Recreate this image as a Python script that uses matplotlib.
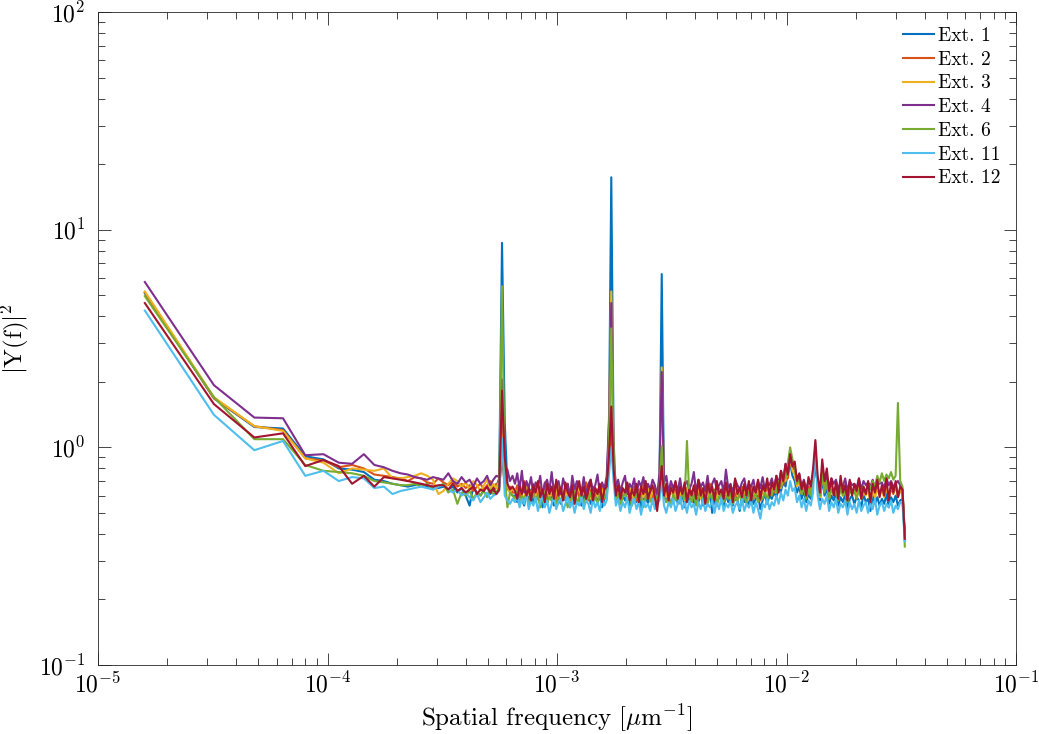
import numpy as np
import matplotlib
matplotlib.use("Agg")
import matplotlib.pyplot as plt
from matplotlib.ticker import LogLocator, NullFormatter

plt.rcParams['font.family'] = 'cmr10'
plt.rcParams['mathtext.fontset'] = 'cm'
plt.rcParams['axes.formatter.use_mathtext'] = True

# frequency step of the spectrum [1/um]
df = 1.6e-5
# first 40 bins are kept one by one, after that bins are thinned out
k_first = 41
k_last = 2048

labels = ['Ext. 1', 'Ext. 2', 'Ext. 3', 'Ext. 4', 'Ext. 6', 'Ext. 11', 'Ext. 12']
colors = ['#0072BD', '#D95319', '#EDB120', '#7E2F8E', '#77AC30', '#4DBEEE', '#A2142F']

# |Y(f)|^2, bins 1..40
ext1_low = [5.1, 1.68, 1.24, 1.22, 0.91, 0.88, 0.80, 0.79, 0.77, 0.71,
            0.70, 0.68, 0.67, 0.66, 0.67, 0.68, 0.66, 0.66, 0.65, 0.66,
            0.64, 0.66, 0.62, 0.65, 0.60, 0.54, 0.66, 0.62, 0.60, 0.64,
            0.66, 0.61, 0.63, 0.66, 0.72, 8.7, 1.3, 0.66, 0.62, 0.60]
ext2_low = [5.15, 1.68, 1.25, 1.20, 0.89, 0.87, 0.81, 0.83, 0.80, 0.75,
            0.74, 0.73, 0.72, 0.70, 0.73, 0.72, 0.69, 0.68, 0.72, 0.69,
            0.67, 0.70, 0.66, 0.68, 0.65, 0.67, 0.63, 0.66, 0.68, 0.64,
            0.67, 0.70, 0.65, 0.68, 0.66, 0.87, 0.68, 0.64, 0.66, 0.62]
ext3_low = [5.2, 1.70, 1.25, 1.19, 0.89, 0.85, 0.76, 0.80, 0.79, 0.78,
            0.80, 0.72, 0.72, 0.73, 0.74, 0.76, 0.74, 0.71, 0.61, 0.63,
            0.68, 0.72, 0.70, 0.66, 0.69, 0.64, 0.70, 0.67, 0.63, 0.67,
            0.71, 0.64, 0.68, 0.65, 0.70, 1.25, 0.75, 0.66, 0.62, 0.65]
ext4_low = [5.75, 1.93, 1.37, 1.36, 0.92, 0.93, 0.85, 0.84, 0.93, 0.83,
            0.81, 0.78, 0.76, 0.75, 0.73, 0.72, 0.71, 0.73, 0.72, 0.71,
            0.76, 0.70, 0.68, 0.73, 0.69, 0.71, 0.66, 0.72, 0.68, 0.70,
            0.74, 0.67, 0.71, 0.74, 0.73, 2.05, 0.82, 0.79, 0.70, 0.74]
ext6_low = [4.95, 1.70, 1.09, 1.09, 0.83, 0.78, 0.77, 0.76, 0.74, 0.70,
            0.69, 0.68, 0.67, 0.67, 0.68, 0.66, 0.68, 0.64, 0.66, 0.68,
            0.62, 0.64, 0.55, 0.62, 0.60, 0.63, 0.58, 0.62, 0.60, 0.63,
            0.59, 0.64, 0.61, 0.62, 0.66, 5.5, 0.74, 0.53, 0.62, 0.60]
ext11_low = [4.25, 1.41, 0.97, 1.07, 0.74, 0.78, 0.70, 0.73, 0.72, 0.65,
             0.66, 0.61, 0.63, 0.64, 0.65, 0.66, 0.65, 0.64, 0.66, 0.67,
             0.64, 0.62, 0.64, 0.60, 0.62, 0.59, 0.57, 0.61, 0.56, 0.59,
             0.62, 0.58, 0.60, 0.61, 0.63, 1.1, 0.60, 0.57, 0.55, 0.58]
ext12_low = [4.6, 1.58, 1.11, 1.16, 0.82, 0.875, 0.82, 0.68, 0.74, 0.66,
             0.73, 0.72, 0.71, 0.70, 0.69, 0.68, 0.67, 0.66, 0.67, 0.67,
             0.64, 0.68, 0.63, 0.65, 0.62, 0.64, 0.66, 0.61, 0.64, 0.63,
             0.66, 0.62, 0.65, 0.61, 0.64, 1.82, 0.90, 0.68, 0.64, 0.66]

# |Y(f)|^2 on thinned bins from 41 to 2048
ext1_high = [0.60, 0.56, 0.63, 0.58, 0.54, 0.61, 0.57, 0.64, 0.55, 0.60,
             0.58, 0.62, 0.53, 0.59, 0.56, 0.63, 0.57, 0.54, 0.61, 0.58,
             0.55, 0.62, 0.57, 0.60, 0.53, 0.59, 0.63, 0.56, 0.58, 0.54,
             0.61, 0.57, 0.64, 0.55, 0.59, 0.62, 0.56, 0.60, 0.53, 0.58,
             0.62, 1.30, 17.4, 1.10, 0.58, 0.61, 0.55, 0.60, 0.57, 0.63,
             0.54, 0.59, 0.61, 0.56, 0.62, 0.53, 0.58, 0.60, 0.55, 0.61,
             0.57, 0.63, 0.55, 0.66, 6.25, 0.62, 0.56, 0.60, 0.54, 0.59,
             0.62, 0.55, 0.58, 0.61, 0.53, 0.60, 0.57, 0.63, 0.55, 0.59,
             0.56, 0.61, 0.54, 0.60, 0.57, 0.62, 0.50, 0.58, 0.55, 0.60,
             0.57, 0.53, 0.61, 0.56, 0.59, 0.54, 0.62, 0.57, 0.51, 0.60,
             0.56, 0.59, 0.53, 0.61, 0.55, 0.58, 0.60, 0.52, 0.57, 0.61,
             0.55, 0.60, 0.58, 0.62, 0.59, 0.65, 0.63, 0.70, 0.66, 0.78,
             0.85, 0.74, 0.70, 0.62, 0.66, 0.58, 0.63, 0.56, 0.61, 0.58,
             0.70, 0.98, 0.64, 0.57, 0.72, 0.60, 0.65, 0.55, 0.60, 0.57,
             0.62, 0.54, 0.59, 0.56, 0.61, 0.52, 0.58, 0.60, 0.55, 0.59,
             0.57, 0.53, 0.61, 0.56, 0.58, 0.51, 0.60, 0.55, 0.59, 0.54,
             0.58, 0.55, 0.61, 0.53, 0.59, 0.56, 0.60, 0.54, 0.57, 0.58,
             0.39]
ext2_high = [0.62, 0.67, 0.59, 0.64, 0.70, 0.58, 0.65, 0.61, 0.68, 0.57,
             0.63, 0.66, 0.60, 0.69, 0.58, 0.64, 0.61, 0.67, 0.56, 0.63,
             0.66, 0.59, 0.62, 0.68, 0.57, 0.64, 0.60, 0.66, 0.58, 0.65,
             0.61, 0.69, 0.57, 0.63, 0.66, 0.59, 0.64, 0.62, 0.68, 0.58,
             0.65, 0.85, 1.25, 0.78, 0.62, 0.66, 0.58, 0.64, 0.61, 0.67,
             0.59, 0.63, 0.66, 0.57, 0.64, 0.60, 0.68, 0.58, 0.62, 0.65,
             0.59, 0.66, 0.57, 0.63, 0.80, 0.61, 0.65, 0.58, 0.67, 0.60,
             0.64, 0.57, 0.66, 0.61, 0.63, 0.59, 0.67, 0.56, 0.64, 0.62,
             0.60, 0.66, 0.58, 0.63, 0.61, 0.68, 0.57, 0.64, 0.60, 0.65,
             0.58, 0.63, 0.67, 0.59, 0.62, 0.65, 0.57, 0.64, 0.61, 0.66,
             0.59, 0.63, 0.60, 0.67, 0.58, 0.64, 0.62, 0.57, 0.65, 0.61,
             0.66, 0.60, 0.64, 0.62, 0.68, 0.63, 0.72, 0.67, 0.78, 0.72,
             0.88, 0.79, 0.80, 0.68, 0.72, 0.62, 0.68, 0.60, 0.66, 0.63,
             0.74, 0.96, 0.68, 0.60, 0.80, 0.66, 0.72, 0.60, 0.67, 0.62,
             0.65, 0.59, 0.68, 0.61, 0.64, 0.58, 0.66, 0.62, 0.64, 0.60,
             0.67, 0.59, 0.63, 0.61, 0.66, 0.57, 0.64, 0.60, 0.65, 0.62,
             0.64, 0.60, 0.66, 0.58, 0.65, 0.61, 0.67, 0.59, 0.63, 0.62,
             0.40]
ext3_high = [0.64, 0.59, 0.66, 0.61, 0.57, 0.68, 0.62, 0.58, 0.65, 0.60,
             0.67, 0.56, 0.63, 0.61, 0.66, 0.59, 0.64, 0.57, 0.62, 0.68,
             0.60, 0.63, 0.58, 0.66, 0.61, 0.55, 0.64, 0.62, 0.67, 0.59,
             0.63, 0.60, 0.66, 0.58, 0.62, 0.65, 0.59, 0.63, 0.61, 0.67,
             0.60, 1.40, 5.20, 1.00, 0.63, 0.59, 0.66, 0.61, 0.64, 0.58,
             0.65, 0.61, 0.57, 0.64, 0.60, 0.67, 0.59, 0.62, 0.66, 0.58,
             0.63, 0.60, 0.58, 0.69, 2.33, 0.63, 0.59, 0.65, 0.61, 0.64,
             0.58, 0.66, 0.60, 0.63, 0.57, 0.65, 0.61, 0.59, 0.64, 0.60,
             0.66, 0.58, 0.63, 0.61, 0.59, 0.65, 0.60, 0.62, 0.57, 0.64,
             0.61, 0.66, 0.59, 0.63, 0.58, 0.62, 0.65, 0.60, 0.63, 0.57,
             0.64, 0.61, 0.66, 0.58, 0.62, 0.60, 0.65, 0.59, 0.63, 0.61,
             0.60, 0.65, 0.62, 0.67, 0.63, 0.70, 0.65, 0.74, 0.70, 0.80,
             0.90, 0.78, 0.75, 0.66, 0.70, 0.61, 0.66, 0.59, 0.64, 0.61,
             0.72, 0.95, 0.66, 0.59, 0.76, 0.63, 0.69, 0.58, 0.65, 0.61,
             0.63, 0.58, 0.66, 0.60, 0.62, 0.57, 0.64, 0.61, 0.63, 0.59,
             0.65, 0.58, 0.62, 0.60, 0.64, 0.56, 0.63, 0.59, 0.64, 0.61,
             0.63, 0.59, 0.65, 0.60, 0.66, 0.62, 0.68, 0.60, 0.64, 0.61,
             0.39]
ext4_high = [0.68, 0.76, 0.64, 0.78, 0.62, 0.70, 0.65, 0.73, 0.61, 0.69,
             0.66, 0.74, 0.60, 0.68, 0.71, 0.63, 0.77, 0.62, 0.67, 0.70,
             0.61, 0.72, 0.65, 0.68, 0.59, 0.74, 0.64, 0.70, 0.66, 0.62,
             0.73, 0.60, 0.68, 0.71, 0.63, 0.67, 0.75, 0.61, 0.69, 0.64,
             0.74, 1.30, 4.60, 0.90, 0.66, 0.71, 0.62, 0.69, 0.74, 0.61,
             0.68, 0.65, 0.72, 0.60, 0.70, 0.66, 0.73, 0.62, 0.68, 0.64,
             0.71, 0.67, 0.60, 0.76, 2.22, 0.68, 0.74, 0.62, 0.70, 0.65,
             0.69, 0.63, 0.72, 0.61, 0.67, 0.70, 0.64, 0.68, 0.77, 0.62,
             0.71, 0.66, 0.69, 0.63, 0.74, 0.61, 0.68, 0.72, 0.64, 0.67,
             0.70, 0.62, 0.79, 0.65, 0.68, 0.61, 0.71, 0.67, 0.64, 0.69,
             0.72, 0.63, 0.68, 0.66, 0.71, 0.62, 0.70, 0.65, 0.73, 0.64,
             0.69, 0.67, 0.72, 0.65, 0.74, 0.68, 0.78, 0.71, 0.84, 0.76,
             0.90, 0.82, 0.80, 0.72, 0.75, 0.66, 0.71, 0.64, 0.70, 0.67,
             0.73, 0.80, 0.68, 0.66, 0.78, 0.70, 0.74, 0.65, 0.72, 0.68,
             0.71, 0.64, 0.69, 0.66, 0.72, 0.63, 0.70, 0.67, 0.68, 0.65,
             0.72, 0.64, 0.70, 0.67, 0.69, 0.66, 0.71, 0.64, 0.70, 0.68,
             0.69, 0.65, 0.72, 0.67, 0.70, 0.66, 0.68, 0.70, 0.67, 0.64,
             0.40]
ext6_high = [0.58, 0.63, 0.55, 0.60, 0.57, 0.62, 0.54, 0.59, 0.61, 0.56,
             0.60, 0.53, 0.58, 0.62, 0.55, 0.59, 0.57, 0.61, 0.54, 0.60,
             0.56, 0.62, 0.58, 0.53, 0.60, 0.57, 0.63, 0.55, 0.59, 0.61,
             0.54, 0.60, 0.58, 0.62, 0.56, 0.59, 0.55, 0.61, 0.57, 0.60,
             0.58, 1.10, 3.52, 0.90, 0.57, 0.61, 0.55, 0.59, 0.62, 0.56,
             0.60, 0.54, 0.58, 0.61, 0.56, 0.60, 0.53, 0.59, 0.62, 0.57,
             0.55, 0.61, 0.58, 0.63, 1.01, 0.60, 0.56, 0.59, 0.54, 0.61,
             0.57, 0.60, 0.55, 0.62, 0.58, 1.07, 0.60, 0.56, 0.61, 0.54,
             0.59, 0.62, 0.56, 0.60, 0.55, 0.61, 0.58, 0.63, 0.54, 0.59,
             0.61, 0.56, 0.60, 0.58, 0.62, 0.55, 0.59, 0.57, 0.61, 0.56,
             0.60, 0.55, 0.62, 0.57, 0.59, 0.61, 0.56, 0.60, 0.58, 0.62,
             0.57, 0.63, 0.60, 0.65, 0.62, 0.70, 0.66, 0.76, 0.72, 0.85,
             1.00, 0.88, 0.82, 0.68, 0.72, 0.61, 0.66, 0.58, 0.64, 0.60,
             0.72, 0.90, 0.68, 0.60, 0.78, 0.62, 0.70, 0.58, 0.64, 0.61,
             0.62, 0.57, 0.65, 0.60, 0.63, 0.56, 0.64, 0.61, 0.63, 0.58,
             0.64, 0.59, 0.66, 0.62, 0.68, 0.64, 0.70, 0.66, 0.74, 0.69,
             0.76, 0.70, 0.75, 0.72, 0.77, 0.71, 0.74, 1.60, 0.70, 0.66,
             0.35]
ext11_high = [0.56, 0.60, 0.53, 0.58, 0.55, 0.61, 0.52, 0.57, 0.54, 0.59,
              0.51, 0.56, 0.60, 0.53, 0.57, 0.50, 0.55, 0.59, 0.52, 0.56,
              0.58, 0.51, 0.55, 0.60, 0.53, 0.57, 0.50, 0.56, 0.54, 0.59,
              0.52, 0.57, 0.55, 0.50, 0.58, 0.53, 0.56, 0.51, 0.59, 0.54,
              0.57, 0.75, 1.00, 0.70, 0.54, 0.58, 0.51, 0.56, 0.53, 0.59,
              0.50, 0.55, 0.58, 0.52, 0.56, 0.49, 0.57, 0.53, 0.55, 0.51,
              0.58, 0.52, 0.55, 0.57, 0.70, 0.54, 0.50, 0.56, 0.53, 0.58,
              0.51, 0.55, 0.59, 0.52, 0.56, 0.50, 0.57, 0.53, 0.55, 0.49,
              0.56, 0.52, 0.58, 0.51, 0.55, 0.53, 0.57, 0.50, 0.56, 0.52,
              0.59, 0.51, 0.55, 0.53, 0.57, 0.50, 0.54, 0.56, 0.52, 0.58,
              0.51, 0.55, 0.53, 0.57, 0.50, 0.56, 0.52, 0.47, 0.55, 0.53,
              0.58, 0.52, 0.56, 0.54, 0.60, 0.55, 0.62, 0.57, 0.64, 0.60,
              0.70, 0.63, 0.65, 0.56, 0.60, 0.53, 0.58, 0.51, 0.57, 0.54,
              0.62, 1.05, 0.60, 0.52, 0.58, 0.55, 0.60, 0.51, 0.56, 0.53,
              0.58, 0.50, 0.55, 0.53, 0.57, 0.49, 0.56, 0.52, 0.55, 0.50,
              0.57, 0.51, 0.54, 0.56, 0.50, 0.55, 0.52, 0.58, 0.49, 0.54,
              0.56, 0.51, 0.55, 0.53, 0.57, 0.50, 0.54, 0.52, 0.56, 0.55,
              0.37]
ext12_high = [0.63, 0.58, 0.66, 0.61, 0.69, 0.60, 0.65, 0.57, 0.67, 0.62,
              0.70, 0.59, 0.64, 0.56, 0.68, 0.61, 0.66, 0.58, 0.71, 0.60,
              0.65, 0.57, 0.69, 0.62, 0.59, 0.67, 0.55, 0.64, 0.70, 0.60,
              0.66, 0.58, 0.63, 0.71, 0.57, 0.65, 0.61, 0.68, 0.56, 0.64,
              0.66, 0.92, 1.54, 0.80, 0.60, 0.67, 0.58, 0.65, 0.62, 0.69,
              0.57, 0.64, 0.60, 0.68, 0.56, 0.66, 0.61, 0.70, 0.58, 0.63,
              0.67, 0.59, 0.51, 0.64, 0.82, 0.60, 0.68, 0.57, 0.65, 0.62,
              0.70, 0.58, 0.66, 0.61, 0.69, 0.56, 0.64, 0.60, 0.67, 0.58,
              0.71, 0.60, 0.65, 0.55, 0.68, 0.62, 0.66, 0.57, 0.70, 0.61,
              0.64, 0.58, 0.69, 0.60, 0.67, 0.56, 0.72, 0.61, 0.65, 0.59,
              0.68, 0.60, 0.70, 0.57, 0.66, 0.62, 0.71, 0.58, 0.67, 0.63,
              0.72, 0.60, 0.69, 0.64, 0.74, 0.62, 0.78, 0.70, 0.84, 0.75,
              0.93, 0.82, 0.86, 0.70, 0.76, 0.64, 0.70, 0.60, 0.73, 0.66,
              0.80, 1.08, 0.74, 0.62, 0.88, 0.70, 0.80, 0.63, 0.72, 0.60,
              0.69, 0.58, 0.74, 0.62, 0.67, 0.57, 0.71, 0.60, 0.68, 0.63,
              0.72, 0.58, 0.66, 0.61, 0.70, 0.56, 0.68, 0.62, 0.71, 0.59,
              0.67, 0.60, 0.72, 0.57, 0.69, 0.62, 0.70, 0.59, 0.66, 0.64,
              0.38]

lows = [ext1_low, ext2_low, ext3_low, ext4_low, ext6_low, ext11_low, ext12_low]
highs = [ext1_high, ext2_high, ext3_high, ext4_high, ext6_high, ext11_high, ext12_high]

fig = plt.figure(figsize=(10.39, 7.34), dpi=100)
ax = fig.add_axes([98/1039, 69/734, 918/1039, 653/734])

for lo, hi, lab, col in zip(lows, highs, labels, colors):
    k = np.concatenate([np.arange(1, len(lo) + 1),
                        np.geomspace(k_first, k_last, len(hi))])
    f = k * df
    ax.plot(f, np.array(lo + hi), color=col, lw=1.5, label=lab)

ax.set_xscale('log')
ax.set_yscale('log')
ax.set_xlim(1e-5, 1e-1)
ax.set_ylim(1e-1, 1e2)
ax.xaxis.set_major_locator(LogLocator(base=10, numticks=10))
ax.xaxis.set_minor_locator(LogLocator(base=10, subs=np.arange(2, 10), numticks=20))
ax.yaxis.set_minor_locator(LogLocator(base=10, subs=np.arange(2, 10), numticks=20))
ax.xaxis.set_minor_formatter(NullFormatter())
ax.yaxis.set_minor_formatter(NullFormatter())

for s in ax.spines.values():
    s.set_color('#262626')
    s.set_linewidth(0.6)
ax.tick_params(which='both', direction='in', top=True, right=True,
               colors='#262626', labelsize=17, width=0.6)
ax.tick_params(which='major', length=9)
ax.tick_params(which='minor', length=5)
ax.tick_params(axis='x', which='major', pad=5)
ax.tick_params(axis='y', which='major', pad=9)
for t in ax.get_xticklabels() + ax.get_yticklabels():
    t.set_color('black')

ax.set_xlabel(r'Spatial frequency [$\mu$m$^{-1}$]', fontsize=18, labelpad=4)
ax.set_ylabel(r'$|\mathrm{Y(f)}|^2$', fontsize=18, labelpad=6)

ax.legend(loc='upper left', bbox_to_anchor=(0.8766, 0.977), frameon=False,
          fontsize=14, handlelength=1.6, handletextpad=0.2, labelspacing=0.3,
          borderpad=0, borderaxespad=0)

fig.savefig('out.png', dpi=100)
